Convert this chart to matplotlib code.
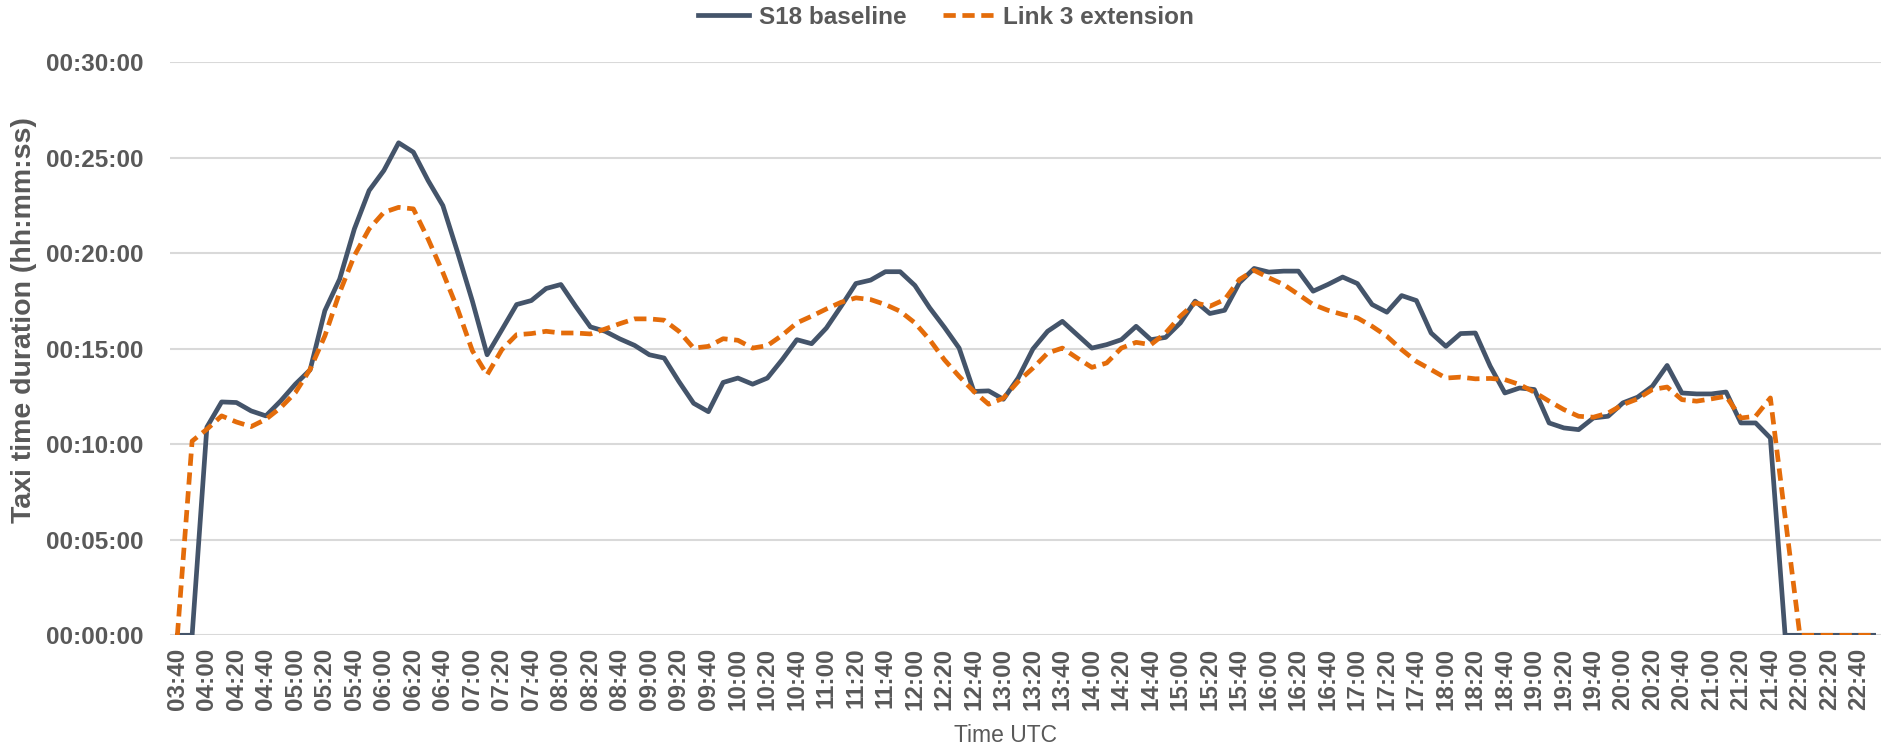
import matplotlib
matplotlib.use("Agg")
import matplotlib.pyplot as plt
from matplotlib.ticker import FixedLocator, FuncFormatter
import pandas as pd

# time slots, 10 minutes apart (03:40 .. 22:50)
start = "03:40"
end = "22:50"
slots = pd.date_range("2020-01-01 " + start, "2020-01-01 " + end, freq="10min")
slot_labels = [t.strftime("%H:%M") for t in slots]

# taxi time in minutes
s18_baseline = [0, 0, 10.9, 12.22, 12.19, 11.75, 11.49, 12.27, 13.15, 13.9,
                17.0, 18.65, 21.28, 23.29, 24.34, 25.79, 25.3, 23.81, 22.5, 20.05,
                17.5, 14.69, 16.0, 17.32, 17.53, 18.16, 18.37, 17.23, 16.15, 15.92,
                15.52, 15.18, 14.69, 14.52, 13.29, 12.15, 11.71, 13.24, 13.47, 13.15,
                13.47, 14.43, 15.48, 15.27, 16.09, 17.23, 18.42, 18.6, 19.04, 19.04,
                18.32, 17.15, 16.13, 15.04, 12.77, 12.8, 12.36, 13.47, 14.99, 15.92,
                16.44, 15.74, 15.04, 15.22, 15.48, 16.18, 15.48, 15.6, 16.36, 17.5,
                16.85, 17.02, 18.46, 19.21, 19.02, 19.07, 19.07, 18.02, 18.37, 18.76,
                18.42, 17.32, 16.92, 17.79, 17.53, 15.83, 15.13, 15.8, 15.83, 14.1,
                12.69, 12.95, 12.87, 11.12, 10.86, 10.77, 11.38, 11.47, 12.17, 12.47,
                13.04, 14.13, 12.69, 12.64, 12.64, 12.74, 11.12, 11.12, 10.33, 0,
                0, 0, 0, 0, 0, 0]

link3_extension = [0, 10.17, 10.79, 11.49, 11.17, 10.93, 11.31, 11.92, 12.71, 13.93,
                   15.68, 17.95, 19.88, 21.28, 22.15, 22.41, 22.33, 20.75, 19.0, 17.08,
                   14.9, 13.64, 14.96, 15.74, 15.8, 15.92, 15.83, 15.83, 15.78, 16.04,
                   16.32, 16.57, 16.57, 16.5, 15.92, 15.04, 15.13, 15.53, 15.45, 15.04,
                   15.17, 15.71, 16.36, 16.71, 17.09, 17.44, 17.67, 17.58, 17.32, 16.97,
                   16.36, 15.48, 14.43, 13.56, 12.77, 12.1, 12.42, 13.29, 13.99, 14.78,
                   15.04, 14.52, 14.03, 14.26, 15.04, 15.34, 15.22, 15.83, 16.71, 17.41,
                   17.23, 17.58, 18.63, 19.11, 18.72, 18.37, 17.85, 17.32, 17.02, 16.8,
                   16.62, 16.18, 15.66, 14.96, 14.34, 13.91, 13.47, 13.52, 13.43, 13.45,
                   13.39, 13.13, 12.73, 12.26, 11.82, 11.47, 11.42, 11.64, 12.08, 12.38,
                   12.87, 13.0, 12.34, 12.26, 12.38, 12.52, 11.38, 11.47, 12.43, 6.2,
                   0, 0, 0, 0, 0, 0]

y_ticks = [0, 5, 10, 15, 20, 25, 30]

font = "Liberation Sans"
grey = "#595959"
blue = "#44546A"
orange = "#E46C0A"

W, H = 1883, 749
fig = plt.figure(figsize=(W / 100, H / 100), dpi=100)
ax = fig.add_axes([170 / W, 1 - 635.3 / H, (1881 - 170) / W, (635.3 - 62.4) / H])

x = list(range(len(slot_labels)))
ax.plot(x, s18_baseline, color=blue, lw=3.4, label="S18 baseline", solid_joinstyle="round")
ax.plot(x, link3_extension, color=orange, lw=3.4, ls=(0, (2.6, 1.4)),
        label="Link 3 extension")

ax.set_xlim(-0.5, len(x) - 0.5)
ax.set_ylim(0, 30)
ax.yaxis.set_major_locator(FixedLocator(y_ticks))
ax.yaxis.set_major_formatter(FuncFormatter(lambda v, p: "00:%02d:00" % int(round(v))))
ax.grid(axis="y", color="#D9D9D9", lw=1.5)
ax.set_axisbelow(True)
for s in ax.spines.values():
    s.set_visible(False)

ax.set_xticks(x[::2])
ax.set_xticklabels(slot_labels[::2], rotation=90, family=font, fontweight="bold",
                   fontsize=17.5, color=grey)
for lab in ax.get_yticklabels():
    lab.set_family(font)
    lab.set_fontweight("bold")
    lab.set_fontsize(17.5)
    lab.set_color(grey)
ax.tick_params(axis="x", length=0, pad=9)
ax.tick_params(axis="y", length=0, pad=19)

ax.set_ylabel("Taxi time duration (hh:mm:ss)", family=font, fontweight="bold",
              fontsize=20.5, color=grey)
ax.yaxis.set_label_coords(-(170 - 37) / (1881 - 170), 0.55)
fig.text(1006 / W, 1 - 735 / H, "Time UTC", family=font, fontsize=16.5,
         color=grey, ha="center", va="center")

fig.legend(loc="center", bbox_to_anchor=(946 / W, 1 - 17 / H), ncol=2, frameon=False,
           prop={"family": font, "weight": "bold", "size": 17.5}, handlelength=2.1,
           columnspacing=1.5, handletextpad=0.4, labelcolor=grey)

fig.savefig("out.png", dpi=100)
